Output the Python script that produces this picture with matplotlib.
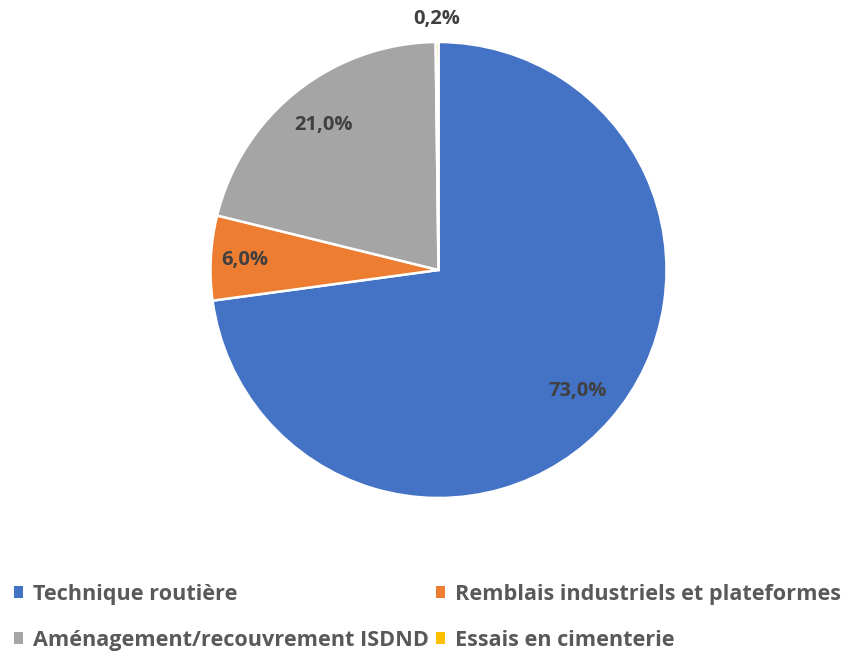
import numpy as np
import matplotlib.pyplot as plt
from matplotlib.patches import Patch

plt.rcParams['font.family'] = ['Open Sans', 'DejaVu Sans']

# Répartition des usages (%)
categories = ["Technique routière", "Remblais industriels et plateformes",
              "Aménagement/recouvrement ISDND", "Essais en cimenterie"]
values = [73.0, 6.0, 21.0, 0.2]
colors = ["#4472C4", "#ED7D31", "#A5A5A5", "#FFC000"]
label_radius = [0.81, 0.85, 0.81, 1.10]

W, H = 863, 652
fig = plt.figure(figsize=(W / 100, H / 100), dpi=100)

cx, cy, r = 438.5, 270, 228
ax = fig.add_axes([(cx - r) / W, (H - cy - r) / H, 2 * r / W, 2 * r / H])
wedges, _ = ax.pie(values, colors=colors, startangle=90, counterclock=False,
                   wedgeprops=dict(edgecolor="white", linewidth=1.8))
ax.set_xlim(-1, 1)
ax.set_ylim(-1, 1)
ax.set_aspect("equal")

for w, v, lr in zip(wedges, values, label_radius):
    ang = np.deg2rad((w.theta1 + w.theta2) / 2)
    ax.text(lr * np.cos(ang), lr * np.sin(ang), f"{v:.1f}%".replace(".", ","),
            ha="center", va="center", fontsize=14.5, fontweight="bold",
            color="#404040", clip_on=False)

# légende sur deux lignes (ordre colonne par colonne)
order = [0, 2, 1, 3]
handles = [Patch(facecolor=colors[i], edgecolor="none") for i in order]
labels = [categories[i] for i in order]
fig.legend(handles, labels, ncol=2, loc="upper left",
           bbox_to_anchor=(5 / W, 1 - 575 / H), frameon=False,
           prop=dict(size=15.6, weight="bold"), labelcolor="#595959",
           handlelength=0.45, handleheight=0.45, handletextpad=0.45,
           columnspacing=0.3, labelspacing=1.15, borderaxespad=0)

fig.savefig("out.png", dpi=100)
